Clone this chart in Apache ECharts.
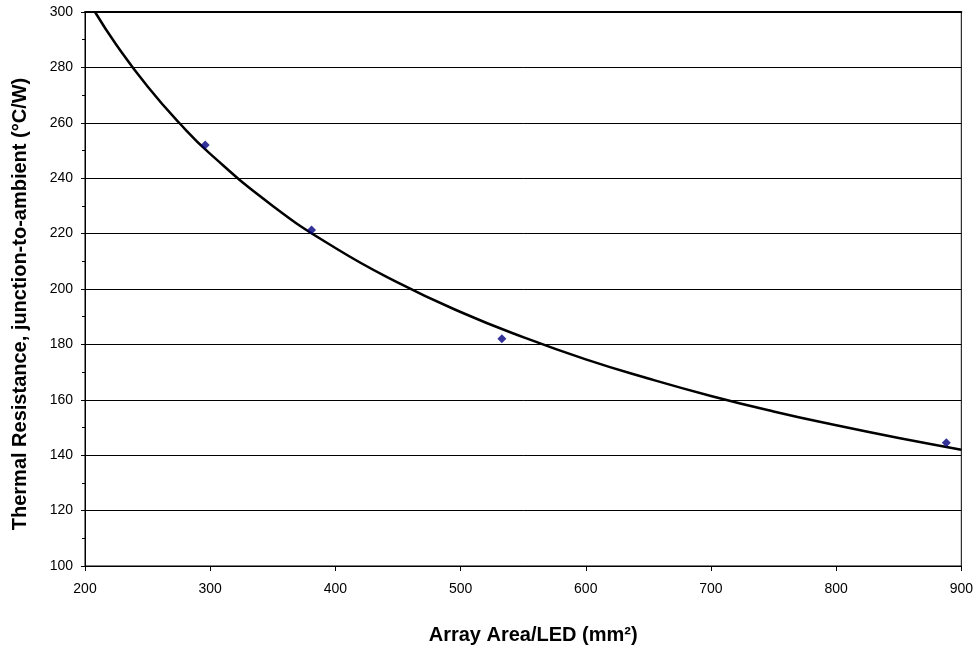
<!DOCTYPE html>
<html>
<head>
<meta charset="utf-8">
<script src="https://cdn.jsdelivr.net/npm/echarts@6/dist/echarts.min.js"></script>
<style>html,body{margin:0;padding:0;background:#fff;}#c{width:976px;height:650px;}</style>
</head>
<body>
<div id="c"></div>
<script>
// Measured data points (Array Area/LED in mm², Thermal resistance °C/W)
const pointX = [296, 381, 533, 888];
const pointY = [252, 221.3, 182, 144.5];
// Trendline values
const trendX = [208, 225, 250, 275, 300, 350, 400, 450, 500, 550, 600, 650, 700, 750, 800, 850, 900];
const trendY = [300, 288.2, 273.1, 260.1, 248.8, 230.0, 214.8, 202.3, 191.7, 182.6, 174.6, 167.7, 161.4, 155.8, 150.8, 146.2, 142.0];
const xTitle = 'Array Area/LED (mm²)';
const yTitle = 'Thermal Resistance, junction-to-ambient (°C/W)';

const chart = echarts.init(document.getElementById('c'), null, {renderer: 'canvas'});
const font = 'Liberation Sans, Arial, sans-serif';
chart.setOption({
  animation: false,
  backgroundColor: '#ffffff',
  grid: {left: 85, right: 14, top: 12, bottom: 82, show: true, borderColor: '#000', borderWidth: 1, backgroundColor: 'transparent'},
  xAxis: [{
    type: 'value', min: 200, max: 900, interval: 100,
    name: xTitle, nameLocation: 'middle', nameGap: 59,
    nameTextStyle: {fontFamily: font, fontWeight: 'bold', fontSize: 20, color: '#000', padding: [0, 0, 0, 20]},
    axisLine: {show: true, lineStyle: {color: '#000', width: 1}},
    axisTick: {show: true, inside: false, length: 5, lineStyle: {color: '#000'}},
    axisLabel: {fontFamily: font, fontSize: 14, color: '#000', margin: 16},
    splitLine: {show: false}
  }, {
    type: 'value', min: 200, max: 900, interval: 100, position: 'top',
    axisLine: {show: true, lineStyle: {color: '#000', width: 2}},
    axisTick: {show: false}, axisLabel: {show: false}, splitLine: {show: false}
  }],
  yAxis: {
    type: 'value', min: 100, max: 300, interval: 20,
    name: yTitle, nameLocation: 'middle', nameGap: 55, nameRotate: 90,
    nameTextStyle: {fontFamily: font, fontWeight: 'bold', fontSize: 20, color: '#000', padding: [0, 30, 0, 0]},
    axisLine: {show: true, lineStyle: {color: '#000', width: 1}},
    axisTick: {show: true, inside: false, length: 4, lineStyle: {color: '#000'}},
    minorTick: {show: true, splitNumber: 2, length: 3, lineStyle: {color: '#000'}},
    axisLabel: {fontFamily: font, fontSize: 14, color: '#000', margin: 12},
    splitLine: {show: true, lineStyle: {color: '#000', width: 1}}
  },
  series: [
    {
      type: 'line', xAxisIndex: 0, data: trendX.map((x, i) => [x, trendY[i]]),
      smooth: true, showSymbol: false, clip: true,
      lineStyle: {color: '#000', width: 2.5}, z: 2
    },
    {
      type: 'scatter', xAxisIndex: 0, data: pointX.map((x, i) => [x, pointY[i]]),
      symbol: 'diamond', symbolSize: 9,
      itemStyle: {color: '#000080'}, z: 3
    }
  ]
});
</script>
</body>
</html>
